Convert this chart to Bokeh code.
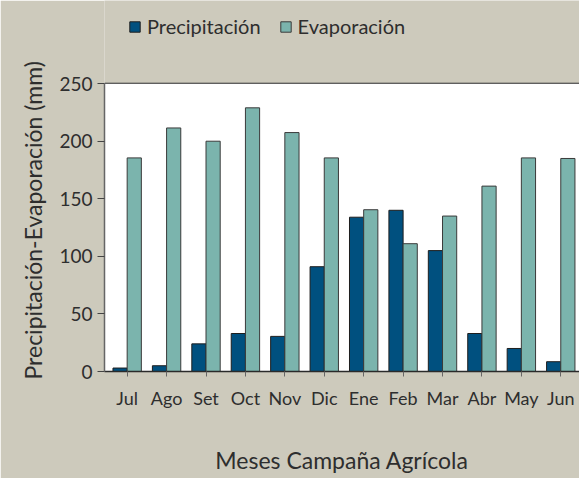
import numpy as np
from bokeh.plotting import figure
from bokeh.models import Range1d, FixedTicker, Legend, LegendItem, BoxAnnotation, Title
from bokeh.embed import file_html
from bokeh.resources import INLINE

months = ["Jul", "Ago", "Set", "Oct", "Nov", "Dic", "Ene", "Feb", "Mar", "Abr", "May", "Jun"]
precipitacion = [3, 5, 24, 33, 30.5, 91, 134, 140, 105, 33, 20, 8.5]
evaporacion = [185.5, 211.5, 200, 229, 207.5, 185.5, 140.5, 111, 135, 161, 185.5, 185]
y_ticks = [0, 50, 100, 150, 200, 250]

BG = "#cdcabc"
C_PRE = "#00507f"
C_EVA = "#7bb4ad"
FONT = "Lato"
TXT = "#2e2e2e"

idx = np.arange(len(months))
y_max = y_ticks[-1]

# frame spans the full height; the white plotting area is limited to 0..250
p = figure(width=579, height=478, output_backend="svg", toolbar_location=None,
           x_range=Range1d(-0.575, 11.475), y_range=Range1d(0, 322.2),
           min_border_left=104, min_border_right=0, min_border_top=0, min_border_bottom=107)
p.background_fill_color = BG
p.border_fill_color = BG
p.outline_line_color = None
p.add_layout(BoxAnnotation(bottom=0, top=y_max, fill_color="white", fill_alpha=1,
                           line_color=None, level="underlay"))

r1 = p.vbar(x=idx - 0.18, top=precipitacion, width=0.36, fill_color=C_PRE,
            line_color="#1e1e1e", line_width=1)
r2 = p.vbar(x=idx + 0.18, top=evaporacion, width=0.36, fill_color=C_EVA,
            line_color="#3a3a3a", line_width=1)

p.xgrid.grid_line_color = None
p.ygrid.ticker = FixedTicker(ticks=y_ticks)
p.ygrid.grid_line_color = "#2a2a2a"
p.ygrid.grid_line_width = 1.3

p.yaxis.ticker = FixedTicker(ticks=y_ticks)
p.yaxis.bounds = (0, y_max)
p.yaxis.axis_line_color = "#666666"
p.yaxis.axis_line_width = 1.5
p.yaxis.major_tick_line_color = "#444444"
p.yaxis.major_tick_out = 7
p.yaxis.major_tick_in = 0
p.yaxis.minor_tick_line_color = None
p.yaxis.major_label_text_font = FONT
p.yaxis.major_label_text_font_size = "19px"
p.yaxis.major_label_text_color = TXT
p.yaxis.major_label_standoff = 5

ylab = Title(text="Precipitación-Evaporación (mm)", align="left", offset=-8,
             text_font=FONT, text_font_size="23px", text_font_style="normal",
             text_color=TXT, standoff=20)
p.add_layout(ylab, "left")

p.xaxis.ticker = FixedTicker(ticks=list(idx))
p.xaxis.major_label_overrides = {int(i): m for i, m in zip(idx, months)}
p.xaxis.axis_line_color = "#2a2a2a"
p.xaxis.axis_line_width = 1.3
p.xaxis.major_tick_line_color = "#666666"
p.xaxis.major_tick_out = 5
p.xaxis.major_tick_in = 0
p.xaxis.minor_tick_line_color = None
p.xaxis.major_label_text_font = FONT
p.xaxis.major_label_text_font_size = "18px"
p.xaxis.major_label_text_color = TXT
p.xaxis.major_label_standoff = 10
p.xaxis.axis_label = "Meses Campaña Agrícola"
p.xaxis.axis_label_text_font = FONT
p.xaxis.axis_label_text_font_size = "23px"
p.xaxis.axis_label_text_font_style = "normal"
p.xaxis.axis_label_text_color = TXT
p.xaxis.axis_label_standoff = 34

legend = Legend(items=[LegendItem(label="Precipitación", renderers=[r1]),
                       LegendItem(label="Evaporación", renderers=[r2])],
                orientation="horizontal", location=(24, 333),
                background_fill_alpha=0, border_line_color=None,
                label_text_font=FONT, label_text_font_size="20px", label_text_color=TXT,
                glyph_width=13, glyph_height=13, spacing=18, padding=0, margin=0,
                label_standoff=6)
p.add_layout(legend, "center")

open("out.html", "w").write(file_html(p, INLINE))
